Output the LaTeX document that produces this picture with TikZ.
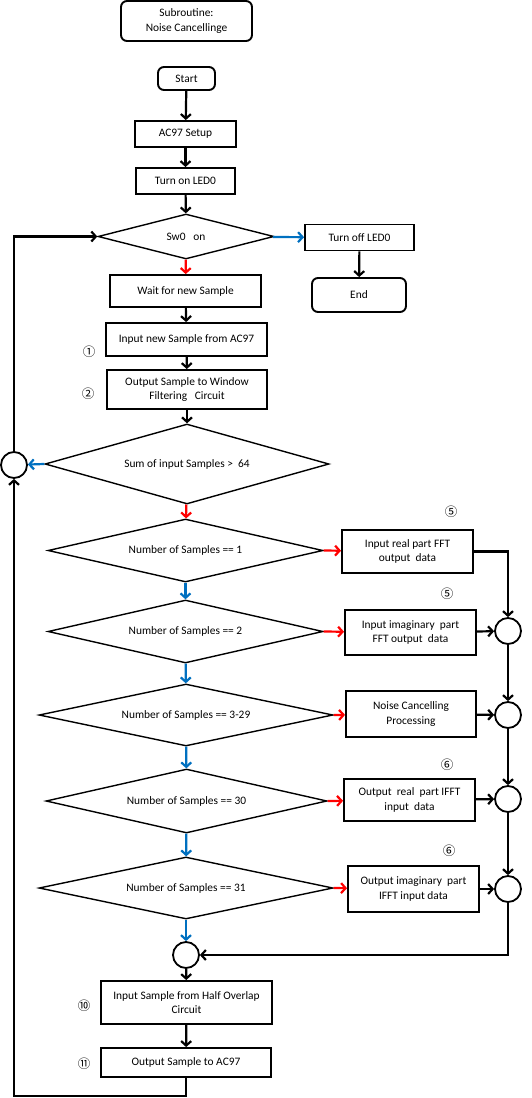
\documentclass[tikz,border=0pt]{standalone}
\usepackage{fontspec}
\setmainfont{Carlito}
\newfontfamily\circnum{Noto Sans CJK SC}
\usetikzlibrary{shapes.geometric,arrows.meta}
\definecolor{yesred}{RGB}{255,0,0}
\definecolor{noblue}{RGB}{0,112,192}
\tikzset{
    procbox/.style  = {shape=rectangle, draw, line width=1.9pt, align=center,
        inner sep=0pt},
    termbox/.style  = {procbox, rounded corners=6pt},
    testbox/.style  = {shape=diamond, draw, line width=1.4pt, aspect=4,
        inner sep=0pt, align=center},
    joint/.style    = {circle, draw, line width=1.8pt, minimum size=26pt,
        inner sep=0pt},
    stepno/.style   = {font=\circnum\fontsize{12.5}{14}\selectfont, inner sep=0pt},
    flow/.style     = {draw, line width=2.2pt, -{Straight Barb[length=4.5pt,width=10pt]}},
    yes/.style      = {flow, yesred},
    no/.style       = {flow, noblue}
}

\begin{document}
\begin{tikzpicture}
            [
            x = 1pt, y = -1pt,
            every node/.style = {font=\fontsize{11.4}{14.5}\selectfont}
            ]
            \useasboundingbox (0,0) rectangle (532,1098);
            % main column
            \node[termbox, minimum width=131, minimum height=40] (title) at (186.5,21) {Subroutine:\\Noise Cancellinge};
            \node[termbox, minimum width=57, minimum height=23] (start) at (186.5,78.5) {Start};
            \node[procbox, minimum width=101, minimum height=26] (setup) at (185.5,134) {AC97 Setup};
            \node[procbox, minimum width=99, minimum height=26] (ledon) at (185.5,181) {Turn on LED0};
            \node[testbox, minimum width=176, minimum height=45] (sw) at (186,236.5) {Sw0\ \ \ on};
            \node[procbox, minimum width=109, minimum height=26] (ledoff) at (359.5,237.5) {Turn off LED0};
            \node[termbox, minimum width=94, minimum height=34] (end) at (359,295) {End};
            \node[procbox, minimum width=151, minimum height=32] (wait) at (185.5,291) {Wait for new Sample};
            \node[procbox, minimum width=161, minimum height=33] (in97) at (186.5,339.5) {Input new Sample from AC97};
            \node[procbox, minimum width=160, minimum height=39] (winf) at (187,389.5) {Output Sample to Window\\Filtering\ \ \ Circuit};
            \node[testbox, minimum width=284, minimum height=80] (sum) at (187,464) {Sum of input Samples >\ \ 64};
            \node[joint] (cl) at (14,465) {};
            % sample number tests
            \node[testbox, minimum width=275, minimum height=63] (n1) at (185.5,550.5) {Number of Samples == 1};
            \node[testbox, minimum width=275, minimum height=63] (n2) at (185.5,631.5) {Number of Samples == 2};
            \node[testbox, minimum width=294, minimum height=62] (n3) at (186,715) {Number of Samples == 3-29};
            \node[testbox, minimum width=281, minimum height=64] (n4) at (186.5,801) {Number of Samples == 30};
            \node[testbox, minimum width=294, minimum height=62] (n5) at (186,888) {Number of Samples == 31};
            \node[procbox, minimum width=131, minimum height=43] (r1) at (407.5,551.5) {Input real part FFT\\output\ \ data};
            \node[procbox, minimum width=131, minimum height=45] (r2) at (410.5,632.5) {Input imaginary\ \ part\\FFT output\ \ data};
            \node[procbox, minimum width=130, minimum height=46] (r3) at (411,714) {Noise Cancelling\\Processing};
            \node[procbox, minimum width=131, minimum height=42] (r4) at (409.5,800) {Output\ \ real\ \ part IFFT\\input\ \ data};
            \node[procbox, minimum width=131, minimum height=46] (r5) at (413.5,889) {Output imaginary\ \ part\\IFFT input data};
            \node[joint] (c1) at (508,631) {};
            \node[joint] (c2) at (508,715) {};
            \node[joint] (c3) at (508,799) {};
            \node[joint] (c4) at (508,889) {};
            \node[joint] (c5) at (186,955) {};
            \node[procbox, minimum width=171, minimum height=43] (half) at (186.5,1002.5) {Input Sample from Half Overlap\\Circuit};
            \node[procbox, minimum width=170, minimum height=29] (out97) at (186,1062.5) {Output Sample to AC97};
            \coordinate (bot) at (14,1096);
            % step numbers
            \node[stepno] (s1) at (89,352) {①};
            \node[stepno] (s2) at (88,394) {②};
            \node[stepno] (s5a) at (451,512) {⑤};
            \node[stepno] (s5b) at (447,594) {⑤};
            \node[stepno] (s6a) at (447,765) {⑥};
            \node[stepno] (s6b) at (449,851) {⑥};
            \node[stepno] (s10) at (84,1006) {⑩};
            \node[stepno] (s11) at (84,1064) {⑪};
            % connectors
            \draw[flow] (start) -- (setup);
            \draw[flow] (setup) -- (ledon);
            \draw[flow] (ledon) -- (sw);
            \draw[no] (sw) -- (ledoff);
            \draw[flow] (ledoff) -- (end);
            \draw[yes] (sw) -- (wait);
            \draw[flow] (wait) -- (in97);
            \draw[flow] (in97) -- (winf);
            \draw[flow] (winf) -- (sum);
            \draw[no] (sum.west) -- (cl);
            \draw[flow] (cl.north) |- (sw.west);
            \draw[yes] (sum) -- (n1);
            \draw[no] (n1) -- (n2);
            \draw[no] (n2) -- (n3);
            \draw[no] (n3) -- (n4);
            \draw[no] (n4) -- (n5);
            \draw[no] (n5) -- (c5);
            \draw[yes] (n1.east) -- (r1);
            \draw[yes] (n2.east) -- (r2);
            \draw[yes] (n3.east) -- (r3);
            \draw[yes] (n4.east) -- (r4);
            \draw[yes] (n5.east) -- (r5);
            \draw[flow] (r1.east) -| (c1.north);
            \draw[flow] (r2) -- (c1);
            \draw[flow] (r3) -- (c2);
            \draw[flow] (r4) -- (c3);
            \draw[flow] (r5) -- (c4);
            \draw[flow] (c1) -- (c2);
            \draw[flow] (c2) -- (c3);
            \draw[flow] (c3) -- (c4);
            \draw[flow] (c4.south) |- (c5.east);
            \draw[flow] (c5) -- (half);
            \draw[flow] (half) -- (out97);
            \draw[flow] (out97.south) -- (out97.south |- bot) -| (cl.south);
    \end{tikzpicture}
\end{document}
